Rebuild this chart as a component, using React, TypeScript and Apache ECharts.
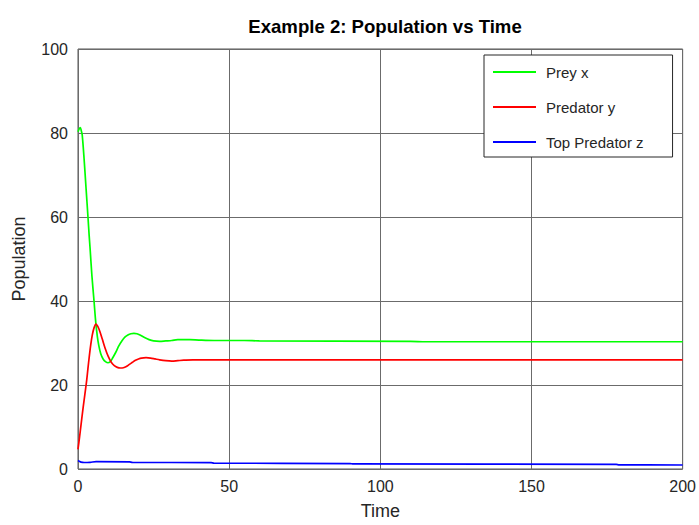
import React, { useEffect, useRef } from "react";
import * as echarts from "echarts";

const chartTitle = "Example 2: Population vs Time";
const seriesNames = ["Prey x", "Predator y", "Top Predator z"];
const xTicks = [0, 50, 100, 150, 200];
const yTicks = [0, 20, 40, 60, 80, 100];

const preyT = [0, 0.4, 0.75, 1.1, 1.4, 2, 2.6, 3.3, 3.7, 4.0, 4.6, 5.3, 5.8, 6.4, 6.9, 7.5, 8.3, 9.2, 9.9, 10.7, 11.5, 12.5, 13.5, 14.5, 15.5, 16.5, 17.5, 18.5, 19.5, 20.5, 22, 23.5, 25, 27, 29, 31, 33, 35, 37, 40, 45, 55, 60, 110, 115, 200];
const preyX = [80.3, 81.0, 81.3, 80.5, 79.5, 74, 67.5, 60, 55.5, 52.5, 46, 40, 35.5, 31.5, 29.3, 27.5, 26.2, 25.5, 25.3, 25.6, 26.5, 27.8, 29.3, 30.5, 31.4, 31.9, 32.2, 32.3, 32.2, 31.9, 31.3, 30.8, 30.5, 30.4, 30.5, 30.6, 30.8, 30.8, 30.8, 30.7, 30.6, 30.6, 30.5, 30.4, 30.3, 30.3];

const predT = [0, 0.5, 1, 1.5, 2, 2.5, 2.9, 3.3, 3.7, 4.2, 4.7, 5.3, 5.95, 6.5, 7.2, 8, 9, 10, 11, 12, 13, 14, 15, 16, 17, 18, 19, 20, 21, 22.5, 24, 25.5, 27, 29, 31, 33, 35, 38, 200];
const predY = [4.7, 7.5, 10.5, 13.5, 16.3, 19, 21.3, 24, 26.6, 29.5, 31.8, 33.6, 34.5, 34.0, 32.8, 31, 28.7, 26.8, 25.4, 24.6, 24.2, 24.05, 24.1, 24.4, 24.9, 25.4, 25.9, 26.2, 26.4, 26.5, 26.4, 26.2, 26.0, 25.8, 25.7, 25.8, 25.9, 26.0, 26.0];

const topT = [0, 0.5, 1, 2, 4, 6, 17, 18, 44, 45, 90, 91, 178, 179, 200];
const topZ = [2.0, 1.8, 1.65, 1.55, 1.6, 1.75, 1.7, 1.6, 1.5, 1.4, 1.3, 1.2, 1.1, 1.0, 0.95];

const colors = ["#00ff00", "#ff0000", "#0000ff"];

const pairs = (t: number[], v: number[]) => t.map((x, i) => [x, v[i]]);

export default function App() {
  const ref = useRef<HTMLDivElement>(null);
  useEffect(() => {
    if (!ref.current) return;
    document.body.style.margin = "0";
    const chart = echarts.init(ref.current, null, { renderer: "svg" });
    const font = "'Liberation Sans', Arial, Helvetica, sans-serif";
    const data = [pairs(preyT, preyX), pairs(predT, predY), pairs(topT, topZ)];
    chart.setOption({
      animation: false,
      backgroundColor: "#ffffff",
      textStyle: { fontFamily: font },
      title: {
        text: chartTitle,
        left: 380,
        textAlign: "center",
        top: 12,
        textStyle: { fontFamily: font, fontSize: 18.6, fontWeight: "bold", color: "#000" },
      },
      legend: {
        orient: "vertical",
        left: 484,
        top: 55,
        data: seriesNames.map((n) => ({ name: n, icon: "rect" })),
        itemWidth: 43,
        itemHeight: 2,
        itemGap: 20,
        padding: [9.5, 29, 7.5, 9],
        borderColor: "#262626",
        borderWidth: 1,
        backgroundColor: "#ffffff",
        textStyle: { fontFamily: font, fontSize: 15, color: "#262626", padding: [0, 0, 0, 5] },
      },
      grid: {
        left: 78,
        right: 16,
        top: 49,
        height: 426,
        show: true,
        borderColor: "#555555",
        borderWidth: 1,
        backgroundColor: "#ffffff",
      },
      xAxis: {
        type: "value",
        min: xTicks[0],
        max: xTicks[xTicks.length - 1],
        interval: 50,
        name: "Time",
        nameLocation: "middle",
        nameGap: 33,
        nameTextStyle: { fontFamily: font, fontSize: 18, color: "#262626" },
        axisLine: { show: false },
        axisTick: { show: false },
        axisLabel: { fontFamily: font, fontSize: 16, color: "#262626", margin: 9 },
        splitLine: { show: true, lineStyle: { color: "#6b6b6b", width: 1 } },
      },
      yAxis: {
        type: "value",
        min: yTicks[0],
        max: yTicks[yTicks.length - 1],
        interval: 20,
        name: "Population",
        nameLocation: "middle",
        nameGap: 50,
        nameTextStyle: { fontFamily: font, fontSize: 18, color: "#262626" },
        axisLine: { show: false },
        axisTick: { show: false },
        axisLabel: { fontFamily: font, fontSize: 16, color: "#262626", margin: 10 },
        splitLine: { show: true, lineStyle: { color: "#6b6b6b", width: 1 } },
      },
      series: seriesNames.map((name, i) => ({
        name,
        type: "line",
        data: data[i],
        symbol: "none",
        showSymbol: false,
        smooth: 0.3,
        color: colors[i],
        itemStyle: { color: colors[i] },
        lineStyle: { color: colors[i], width: 1.7 },
      })),
    });
    return () => chart.dispose();
  }, []);
  return <div ref={ref} style={{ width: 699, height: 525, position: "fixed", left: 0, top: 0 }} />;
}
